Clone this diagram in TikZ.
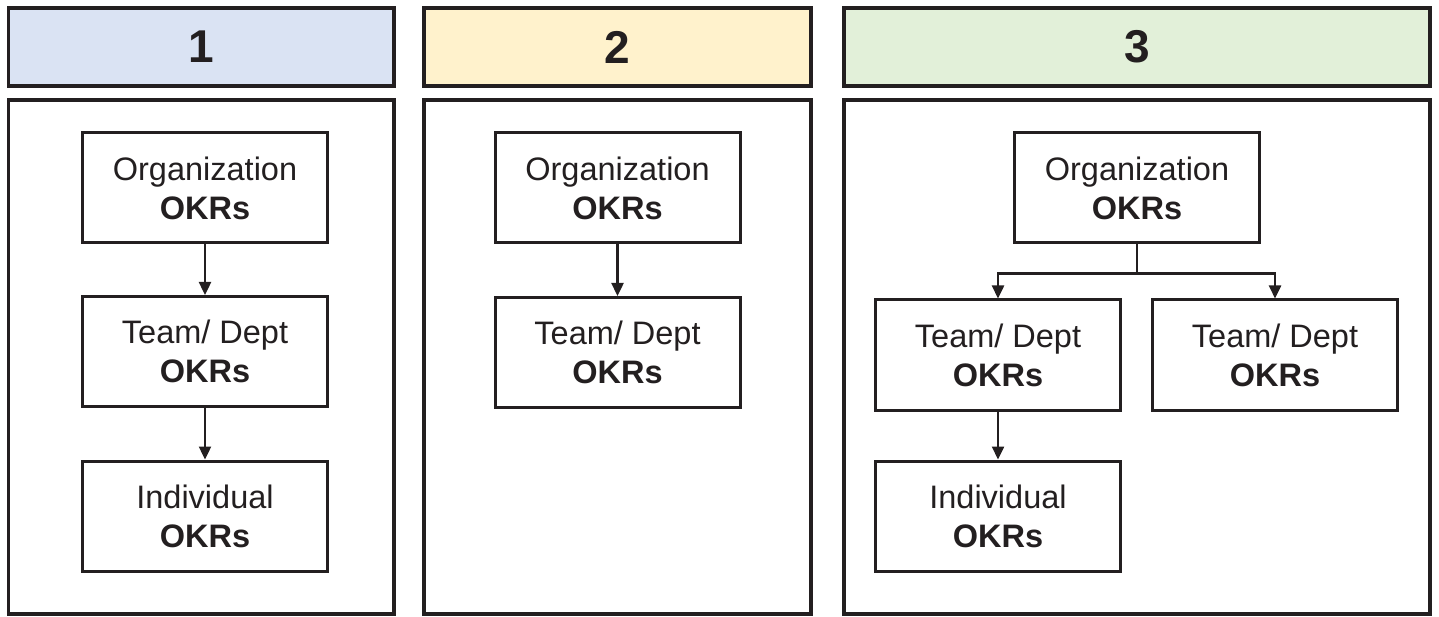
\documentclass[tikz,border=0pt]{standalone}
\usepackage{fontspec}
\setmainfont{Liberation Sans}
\usepackage{xcolor}
\usepackage{tikz}
\usetikzlibrary{arrows.meta}

\definecolor{hdrblue}{HTML}{DAE3F3}
\definecolor{hdryellow}{HTML}{FFF2CC}
\definecolor{hdrgreen}{HTML}{E2F0D9}
\definecolor{ink}{HTML}{231F20}

\tikzset{
    header/.style={draw=ink, line width=3.2pt, fill=#1, minimum height=78pt, inner sep=0pt,
        text=ink, font=\fontsize{46}{54}\selectfont\bfseries},
    panel/.style={draw=ink, line width=3.2pt, minimum height=514pt, inner sep=0pt},
    okr/.style={draw=ink, line width=3pt, minimum width=245pt, minimum height=110pt, inner sep=0pt,
        align=center, text=ink, font=\fontsize{32.5}{39}\selectfont},
    arr/.style={draw=ink, line width=2.4pt, -{Triangle[length=13pt,width=12pt]}},
}

\begin{document}
\begin{tikzpicture}[x=1pt, y=-1pt]
    \useasboundingbox (0,0) rectangle (1439,617);

    % Headers
    \node[header=hdrblue, minimum width=385.5pt] (h1) at (201.25,47) {1};
    \node[header=hdryellow, minimum width=387pt] (h2) at (617.5,47) {2};
    \node[header=hdrgreen, minimum width=586pt] (h3) at (1137,47) {3};

    % Panels
    \node[panel, minimum width=385.5pt] (p1) at (201.25,357) {};
    \node[panel, minimum width=387pt] (p2) at (617.5,357) {};
    \node[panel, minimum width=586pt] (p3) at (1137,357) {};

    % Panel 1
    \node[okr] (o1) at (205,188) {Organization\\\textbf{OKRs}};
    \node[okr] (t1) at (205,351.5) {Team/ Dept\\\textbf{OKRs}};
    \node[okr] (i1) at (205,516) {Individual\\\textbf{OKRs}};
    \draw[arr] (o1) -- (t1);
    \draw[arr] (t1) -- (i1);

    % Panel 2
    \node[okr] (o2) at (617.5,188) {Organization\\\textbf{OKRs}};
    \node[okr] (t2) at (617.5,352.5) {Team/ Dept\\\textbf{OKRs}};
    \draw[arr] (o2) -- (t2);

    % Panel 3
    \node[okr] (o3) at (1137,188) {Organization\\\textbf{OKRs}};
    \node[okr] (t3a) at (998,355) {Team/ Dept\\\textbf{OKRs}};
    \node[okr] (t3b) at (1275,355) {Team/ Dept\\\textbf{OKRs}};
    \node[okr] (i3) at (998,516) {Individual\\\textbf{OKRs}};
    \coordinate (fork) at ([yshift=-29pt]o3.south);
    \draw[arr] (o3.south) -- (fork) -| (t3a.north);
    \draw[arr] (fork) -| (t3b.north);
    \draw[arr] (t3a) -- (i3);
\end{tikzpicture}
\end{document}
